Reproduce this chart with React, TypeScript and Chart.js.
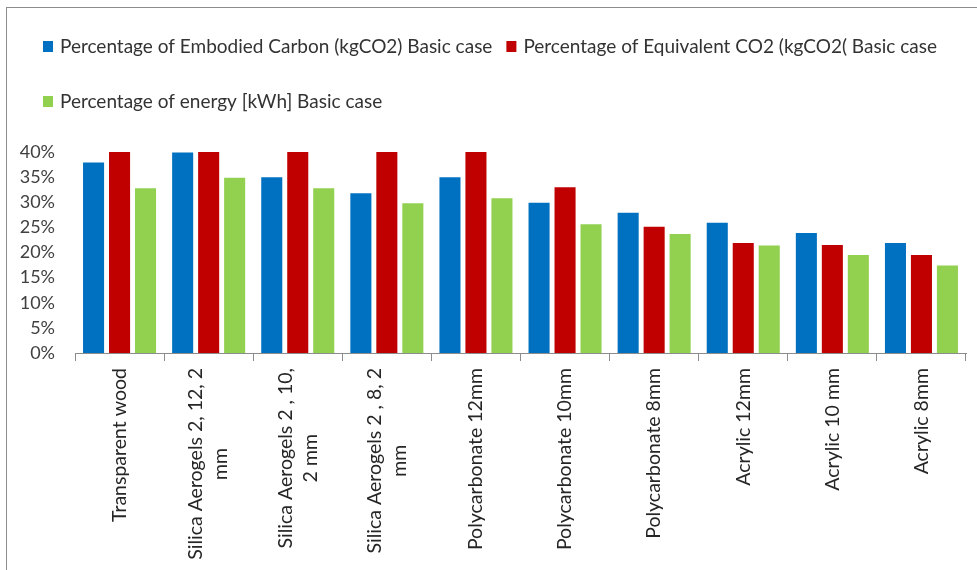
import React, { useEffect, useRef } from 'react';
import { Chart, registerables } from 'chart.js';

Chart.register(...registerables);

// Materials on the category axis (multi-line where the label wraps)
const categories: (string | string[])[] = [
  'Transparent wood',
  ['Silica Aerogels 2, 12, 2', 'mm'],
  ['Silica Aerogels 2 , 10,', '2 mm'],
  ['Silica Aerogels 2 , 8, 2', 'mm'],
  'Polycarbonate 12mm',
  'Polycarbonate 10mm',
  'Polycarbonate 8mm',
  'Acrylic 12mm',
  'Acrylic 10 mm',
  'Acrylic 8mm',
];

const seriesNames = [
  'Percentage of Embodied Carbon (kgCO2) Basic case',
  'Percentage of Equivalent CO2 (kgCO2( Basic case',
  'Percentage of energy [kWh] Basic case',
];

// Values in percent
const embodiedCarbon = [37.9, 39.9, 35, 31.8, 35, 29.9, 27.9, 25.9, 23.9, 21.9];
const equivalentCO2 = [40, 40, 40, 40, 40, 33, 25.1, 21.9, 21.5, 19.5];
const energy = [32.8, 34.9, 32.8, 29.8, 30.8, 25.6, 23.7, 21.4, 19.5, 17.4];

const seriesColors = ['#0070C0', '#C00000', '#92D050'];

const yMin = 0;
const yMax = 40;
const yStep = 5;

const FONT = 'Lato, "Open Sans", sans-serif';

// Legend drawn in two wrapped rows above the plot
const legendPlugin = {
  id: 'topLegend',
  afterDraw(chart: any) {
    const { ctx } = chart;
    const fontSize = 19;
    const box = 10;
    const gap = 14;
    const startX = 43;
    const rowH = 55;
    let x = startX;
    let y = 47;
    ctx.save();
    ctx.font = `${fontSize}px ${FONT}`;
    ctx.textBaseline = 'middle';
    ctx.textAlign = 'left';
    chart.data.datasets.forEach((ds: any, i: number) => {
      const tw = ctx.measureText(ds.label).width;
      const w = box + 7 + tw;
      if (i > 0 && x + w > chart.width - 20) {
        x = startX;
        y += rowH;
      }
      ctx.fillStyle = ds.backgroundColor;
      ctx.fillRect(x, y - 6, box, 11);
      ctx.fillStyle = '#333333';
      ctx.fillText(ds.label, x + box + 7, y);
      x += w + gap;
    });
    ctx.restore();
  },
};

// Vertical category labels; wrapped lines are centred on each other and on the tick
const categoryLabelPlugin = {
  id: 'categoryLabels',
  afterDraw(chart: any) {
    const { ctx } = chart;
    const xs = chart.scales.x;
    const lineH = 25;
    ctx.save();
    ctx.font = `19.5px ${FONT}`;
    ctx.fillStyle = '#262626';
    ctx.textAlign = 'center';
    ctx.textBaseline = 'middle';
    (chart.data.labels as (string | string[])[]).forEach((lab, i) => {
      const lines = Array.isArray(lab) ? lab : [lab];
      const blockW = Math.max(...lines.map((l) => ctx.measureText(l).width));
      const cx = xs.getPixelForTick(i);
      const top = xs.top + 15;
      ctx.save();
      ctx.translate(cx, top);
      ctx.rotate(-Math.PI / 2);
      lines.forEach((line, j) => {
        ctx.fillText(line, -blockW / 2, (j - (lines.length - 1) / 2) * lineH);
      });
      ctx.restore();
    });
    ctx.restore();
  },
};

export default function App() {
  const canvasRef = useRef<HTMLCanvasElement | null>(null);

  useEffect(() => {
    if (!canvasRef.current) return;
    const chart = new Chart(canvasRef.current, {
      type: 'bar',
      data: {
        labels: categories,
        datasets: [
          { label: seriesNames[0], data: embodiedCarbon, backgroundColor: seriesColors[0] },
          { label: seriesNames[1], data: equivalentCO2, backgroundColor: seriesColors[1] },
          { label: seriesNames[2], data: energy, backgroundColor: seriesColors[2] },
        ],
      },
      options: {
        animation: false,
        responsive: false,
        maintainAspectRatio: false,
        devicePixelRatio: 1,
        layout: { padding: { top: 152, right: 11, left: 0, bottom: 0 } },
        datasets: {
          bar: { categoryPercentage: 0.875, barPercentage: 0.81 },
        },
        plugins: {
          legend: { display: false },
          tooltip: { enabled: false },
          title: { display: false },
        },
        scales: {
          x: {
            offset: true,
            grid: {
              display: true,
              drawOnChartArea: false,
              drawTicks: true,
              tickLength: 8,
              color: '#8c8c8c',
              offset: true,
            },
            border: { display: true, color: '#8c8c8c', width: 1 },
            ticks: { display: false, autoSkip: false },
            afterFit(scale: any) {
              scale.height = 217;
            },
          },
          y: {
            min: yMin,
            max: yMax,
            grid: { display: false, drawTicks: false },
            border: { display: false },
            ticks: {
              stepSize: yStep,
              padding: 20,
              color: '#404040',
              font: { family: FONT, size: 18 },
              callback: (v: any) => `${v}%`,
            },
            afterFit(scale: any) {
              scale.width = 75;
            },
          },
        },
      },
      plugins: [legendPlugin, categoryLabelPlugin],
    });
    return () => chart.destroy();
  }, []);

  return (
    <div style={{ position: 'fixed', left: 0, top: 0, width: 977, height: 570, background: '#ffffff' }}>
      <div
        style={{
          position: 'absolute',
          left: 6,
          top: 7,
          right: 0,
          bottom: 0,
          borderLeft: '1px solid #8c8c8c',
          borderTop: '1px solid #8c8c8c',
        }}
      />
      <canvas
        ref={canvasRef}
        width={977}
        height={570}
        style={{ position: 'absolute', left: 0, top: 0, display: 'block' }}
      />
    </div>
  );
}
